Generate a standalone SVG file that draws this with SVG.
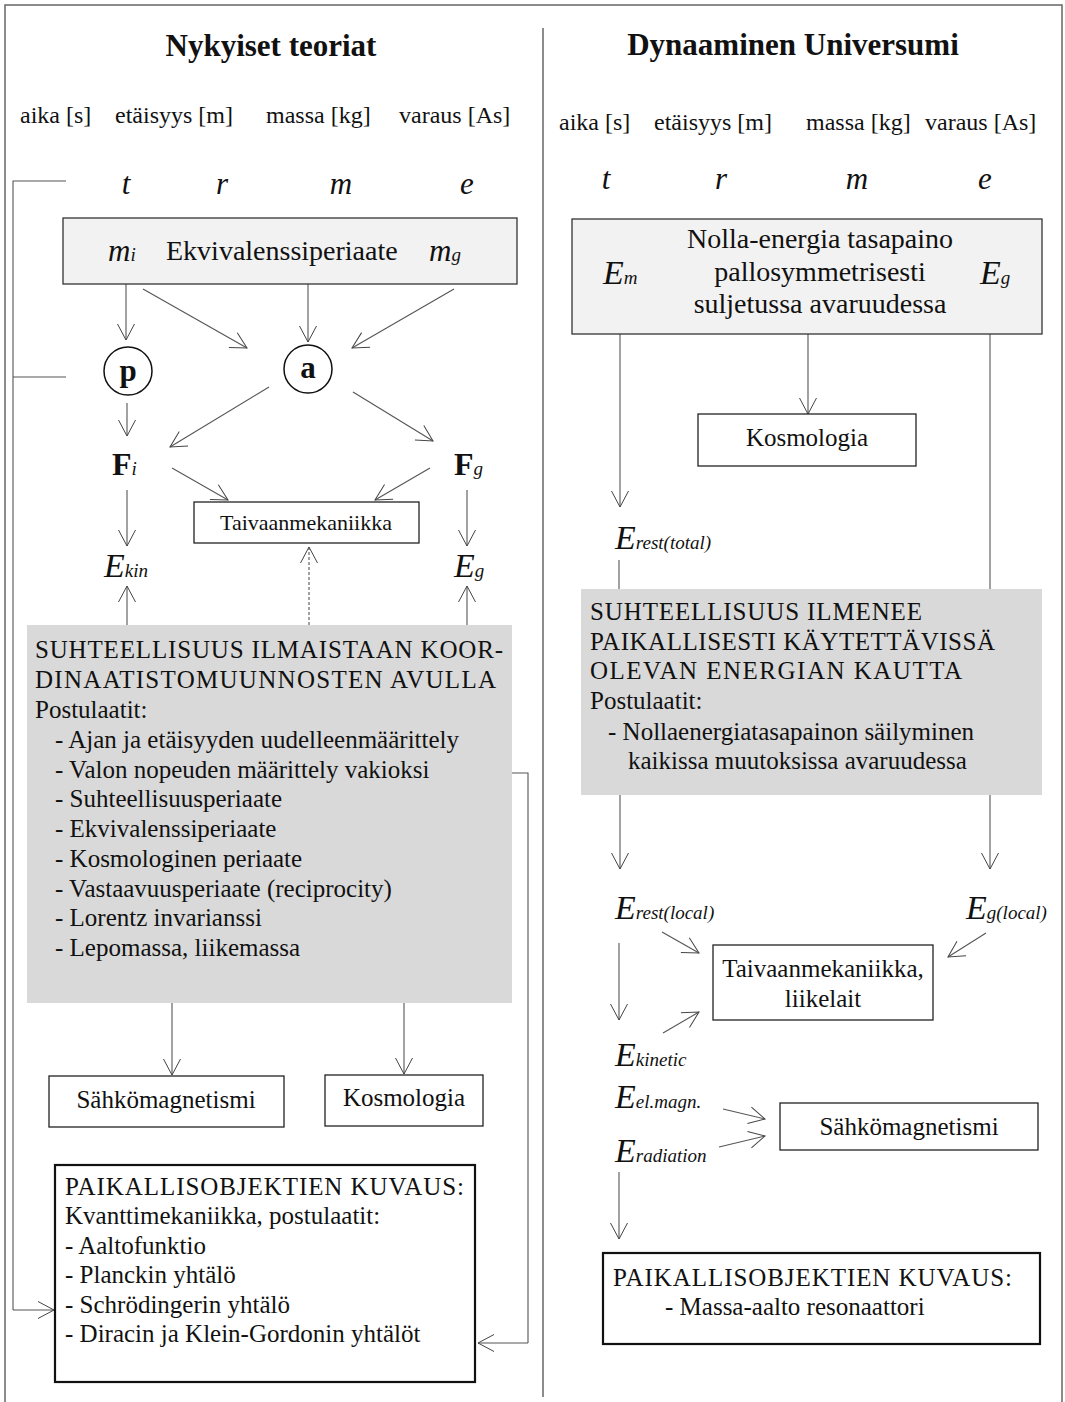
<svg xmlns="http://www.w3.org/2000/svg" width="1065" height="1402" viewBox="0 0 1065 1402">
<style>
text{font-family:"Liberation Serif","Times New Roman",serif;fill:#111}
.ttl{font-size:31px;font-weight:bold;text-anchor:middle}
.u{font-size:24px}
.b{font-size:25px}
.big{font-size:28px}
.var{font-size:31px;font-style:italic}
.E{font-size:34px;font-style:italic}
.sub{font-size:19px;font-style:italic}
.c{text-anchor:middle}
.box{fill:#fff;stroke:#222;stroke-width:1.3}
.pbox{fill:#fff;stroke:#111;stroke-width:2.2}
.lbox{fill:#f2f2f2;stroke:#333;stroke-width:1.3}
.gbox{fill:#d9d9d9;stroke:none}
.ln{fill:none;stroke:#555;stroke-width:1.1}
.ar{fill:none;stroke:#555;stroke-width:1.1;marker-end:url(#v)}
.fr{fill:none;stroke:#666;stroke-width:1.5}
</style>
<defs>
<marker id="v" viewBox="-18 -10 20 20" refX="0" refY="0" markerWidth="20" markerHeight="20" markerUnits="userSpaceOnUse" orient="auto">
<path d="M-16,-8.5 L0,0 L-16,8.5" fill="none" stroke="#444" stroke-width="1"/>
</marker>
</defs>
<rect width="1065" height="1402" fill="#fff"/>
<g id="frame">
<path class="fr" d="M5,1402 V5 H1062 V1402"/>
<path class="fr" d="M543,28 V1397"/>
</g>

<g id="left-header">
<text class="ttl" x="271" y="56">Nykyiset teoriat</text>
<text class="u" x="20" y="123">aika [s]</text>
<text class="u" x="115" y="123">etäisyys [m]</text>
<text class="u" x="266" y="123">massa [kg]</text>
<text class="u" x="399" y="123">varaus [As]</text>
<text class="var c" x="126" y="194">t</text>
<text class="var c" x="222" y="194">r</text>
<text class="var c" x="341" y="194">m</text>
<text class="var c" x="467" y="194">e</text>
</g>

<g id="right-header">
<text class="ttl" x="793" y="55">Dynaaminen Universumi</text>
<text class="u" x="559" y="130">aika [s]</text>
<text class="u" x="654" y="130">etäisyys [m]</text>
<text class="u" x="806" y="130">massa [kg]</text>
<text class="u" x="925" y="130">varaus [As]</text>
<text class="var c" x="606" y="189">t</text>
<text class="var c" x="721" y="189">r</text>
<text class="var c" x="857" y="189">m</text>
<text class="var c" x="985" y="189">e</text>
</g>

<g id="connectors">
<path class="ln" d="M66,181 H13 V1310"/>
<path class="ln" d="M66,377 H13"/>
<path class="ar" d="M13,1310 H54"/>
<path class="ar" d="M126,284 V340"/>
<path class="ar" d="M143,289 L247,348"/>
<path class="ar" d="M308,284 V342"/>
<path class="ar" d="M454,289 L352,348"/>
<path class="ar" d="M127,403 V436"/>
<path class="ar" d="M269,387 L170,447"/>
<path class="ar" d="M353,392 L433,441"/>
<path class="ar" d="M172,468 L228,500"/>
<path class="ar" d="M430,468 L375,500"/>
<path class="ar" d="M127,490 V546"/>
<path class="ar" d="M467,490 V546"/>
<path class="ar" d="M127,625 V586"/>
<path class="ar" d="M467,625 V586"/>
<path class="ar" d="M309,625 V547" stroke-dasharray="3,2"/>
<path class="ar" d="M172,1003 V1075"/>
<path class="ar" d="M404,1003 V1074"/>
<path class="ln" d="M498,773 H528 V1343"/>
<path class="ar" d="M528,1343 H478"/>
<path class="ar" d="M620,298 V507"/>
<path class="ar" d="M808,334 V414"/>
<path class="ln" d="M990,298 V589"/>
<path class="ln" d="M619,560 V589"/>
<path class="ar" d="M620,795 V869"/>
<path class="ar" d="M990,795 V869"/>
<path class="ar" d="M662,932 L699,953"/>
<path class="ar" d="M986,933 L948,957"/>
<path class="ar" d="M619,943 V1020"/>
<path class="ar" d="M663,1033 L699,1012"/>
<path class="ar" d="M723,1109 L765,1119"/>
<path class="ar" d="M719,1147 L765,1136"/>
<path class="ar" d="M619,1172 V1239"/>
</g>

<g id="ekvivalenssi">
<rect class="lbox" x="63" y="218" width="454" height="66"/>
<text x="108" y="261"><tspan class="var">m</tspan><tspan class="sub">i</tspan></text>
<text class="big" x="166" y="260">Ekvivalenssiperiaate</text>
<text x="429" y="261"><tspan class="var">m</tspan><tspan class="sub">g</tspan></text>
</g>

<g id="p">
<circle cx="128" cy="371" r="24" fill="#fff" stroke="#111" stroke-width="1.5"/>
<text class="c" x="128" y="381" font-size="31" font-weight="bold">p</text>
</g>
<g id="a">
<circle cx="308" cy="369" r="24" fill="#fff" stroke="#111" stroke-width="1.5"/>
<text class="c" x="308" y="378" font-size="31" font-weight="bold">a</text>
</g>

<g id="Fi"><text x="112" y="475"><tspan font-size="32" font-weight="bold">F</tspan><tspan class="sub" font-size="21">i</tspan></text></g>
<g id="Fg"><text x="454" y="475"><tspan font-size="32" font-weight="bold">F</tspan><tspan class="sub" font-size="21">g</tspan></text></g>

<g id="taivaan-left">
<rect class="box" x="194" y="502" width="225" height="41"/>
<text class="c" x="306" y="530" font-size="22">Taivaanmekaniikka</text>
</g>

<g id="Ekin"><text x="104" y="577"><tspan class="E">E</tspan><tspan class="sub">kin</tspan></text></g>
<g id="Eg-left"><text x="454" y="577"><tspan class="E">E</tspan><tspan class="sub">g</tspan></text></g>

<g id="suhteellisuus-left">
<rect class="gbox" x="27" y="625" width="485" height="378"/>
<text class="b" x="35" y="658" textLength="468">SUHTEELLISUUS ILMAISTAAN KOOR-</text>
<text class="b" x="35" y="688" textLength="461">DINAATISTOMUUNNOSTEN AVULLA</text>
<text class="b" x="35" y="718">Postulaatit:</text>
<text class="b" x="55" y="748">- Ajan ja etäisyyden uudelleenmäärittely</text>
<text class="b" x="55" y="778">- Valon nopeuden määrittely vakioksi</text>
<text class="b" x="55" y="807">- Suhteellisuusperiaate</text>
<text class="b" x="55" y="837">- Ekvivalenssiperiaate</text>
<text class="b" x="55" y="867">- Kosmologinen periaate</text>
<text class="b" x="55" y="897">- Vastaavuusperiaate (reciprocity)</text>
<text class="b" x="55" y="926">- Lorentz invarianssi</text>
<text class="b" x="55" y="956">- Lepomassa, liikemassa</text>
</g>

<g id="sahko-left">
<rect class="box" x="49" y="1076" width="235" height="51"/>
<text class="b c" x="166" y="1108">Sähkömagnetismi</text>
</g>
<g id="kosmo-left">
<rect class="box" x="325" y="1075" width="158" height="51"/>
<text class="b c" x="404" y="1106">Kosmologia</text>
</g>

<g id="paikallis-left">
<rect class="pbox" x="55" y="1165" width="420" height="217"/>
<text class="b" x="65" y="1195" textLength="399">PAIKALLISOBJEKTIEN KUVAUS:</text>
<text class="b" x="65" y="1224">Kvanttimekaniikka, postulaatit:</text>
<text class="b" x="65" y="1254">- Aaltofunktio</text>
<text class="b" x="65" y="1283">- Planckin yhtälö</text>
<text class="b" x="65" y="1313">- Schrödingerin yhtälö</text>
<text class="b" x="65" y="1342">- Diracin ja Klein-Gordonin yhtälöt</text>
</g>

<g id="nolla">
<rect class="lbox" x="572" y="219" width="470" height="115"/>
<text class="big c" x="820" y="248">Nolla-energia tasapaino</text>
<text class="big c" x="820" y="281">pallosymmetrisesti</text>
<text class="big c" x="820" y="313">suljetussa avaruudessa</text>
<text x="603" y="284"><tspan class="E" font-size="36">E</tspan><tspan class="sub" font-size="21">m</tspan></text>
<text x="980" y="284"><tspan class="E" font-size="36">E</tspan><tspan class="sub" font-size="21">g</tspan></text>
</g>

<g id="kosmo-right">
<rect class="box" x="698" y="414" width="218" height="52"/>
<text class="b c" x="807" y="446">Kosmologia</text>
</g>

<g id="Erest-total"><text x="615" y="549"><tspan class="E">E</tspan><tspan class="sub">rest(total)</tspan></text></g>

<g id="suhteellisuus-right">
<rect class="gbox" x="581" y="589" width="461" height="206"/>
<text class="b" x="590" y="620" textLength="332">SUHTEELLISUUS ILMENEE</text>
<text class="b" x="590" y="650" textLength="405">PAIKALLISESTI KÄYTETTÄVISSÄ</text>
<text class="b" x="590" y="679" textLength="372">OLEVAN ENERGIAN KAUTTA</text>
<text class="b" x="590" y="709">Postulaatit:</text>
<text class="b" x="608" y="740">- Nollaenergiatasapainon säilyminen</text>
<text class="b" x="628" y="769">kaikissa muutoksissa avaruudessa</text>
</g>

<g id="Erest-local"><text x="615" y="919"><tspan class="E">E</tspan><tspan class="sub">rest(local)</tspan></text></g>
<g id="Eg-local"><text x="966" y="919"><tspan class="E">E</tspan><tspan class="sub">g(local)</tspan></text></g>

<g id="taivaan-right">
<rect class="box" x="713" y="945" width="220" height="75"/>
<text class="b c" x="823" y="977">Taivaanmekaniikka,</text>
<text class="b c" x="823" y="1007">liikelait</text>
</g>

<g id="Ekinetic"><text x="615" y="1066"><tspan class="E">E</tspan><tspan class="sub">kinetic</tspan></text></g>
<g id="Eelmagn"><text x="615" y="1108"><tspan class="E">E</tspan><tspan class="sub">el.magn.</tspan></text></g>
<g id="Eradiation"><text x="615" y="1162"><tspan class="E">E</tspan><tspan class="sub">radiation</tspan></text></g>

<g id="sahko-right">
<rect class="box" x="780" y="1103" width="258" height="47"/>
<text class="b c" x="909" y="1135">Sähkömagnetismi</text>
</g>

<g id="paikallis-right">
<rect class="pbox" x="603" y="1253" width="437" height="91"/>
<text class="b" x="613" y="1286" textLength="399">PAIKALLISOBJEKTIEN KUVAUS:</text>
<text class="b" x="665" y="1315">- Massa-aalto resonaattori</text>
</g>
</svg>
